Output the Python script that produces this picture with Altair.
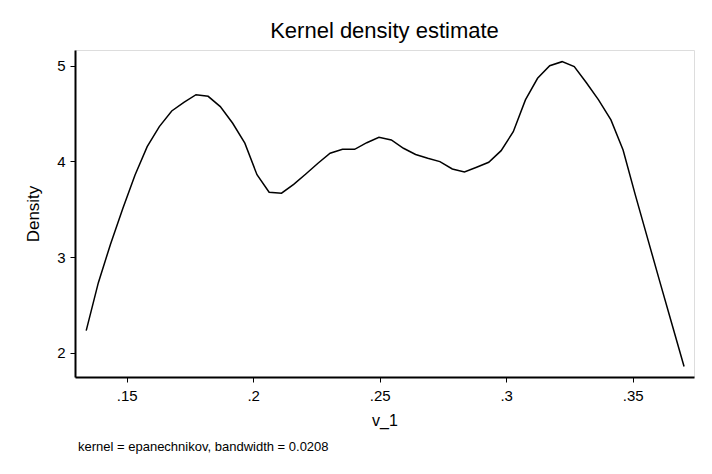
import altair as alt
import pandas as pd

# Evaluation points (v_1) and estimated density
v_1 = [0.1340, 0.1388, 0.1436, 0.1485, 0.1533, 0.1581, 0.1629, 0.1678, 0.1726, 0.1774,
       0.1822, 0.1870, 0.1919, 0.1967, 0.2015, 0.2063, 0.2112, 0.2160, 0.2208, 0.2256,
       0.2304, 0.2353, 0.2401, 0.2449, 0.2497, 0.2546, 0.2594, 0.2642, 0.2690, 0.2738,
       0.2787, 0.2835, 0.2883, 0.2931, 0.2980, 0.3028, 0.3076, 0.3124, 0.3172, 0.3221,
       0.3269, 0.3317, 0.3365, 0.3414, 0.3462, 0.3510, 0.3558, 0.3606, 0.3655, 0.3703]
density = [2.231, 2.732, 3.134, 3.510, 3.858, 4.154, 4.363, 4.527, 4.617, 4.697,
           4.680, 4.572, 4.398, 4.190, 3.860, 3.677, 3.667, 3.760, 3.868, 3.980,
           4.085, 4.126, 4.126, 4.195, 4.252, 4.224, 4.137, 4.072, 4.032, 3.997,
           3.920, 3.889, 3.938, 3.990, 4.112, 4.310, 4.642, 4.868, 5.000, 5.042,
           4.990, 4.822, 4.642, 4.433, 4.119, 3.652, 3.203, 2.753, 2.300, 1.855]

x_ticks = [0.15, 0.2, 0.25, 0.3, 0.35]
y_ticks = [2, 3, 4, 5]
title_text = "Kernel density estimate"
x_title = "v_1"
y_title = "Density"
note_text = "kernel = epanechnikov, bandwidth = 0.0208"

df = pd.DataFrame({"v_1": v_1, "density": density})
FONT = "Liberation Sans"

line = alt.Chart(df).mark_line(color="black", strokeWidth=1.5).encode(
    x=alt.X("v_1:Q",
            scale=alt.Scale(domain=[0.12957, 0.37423], nice=False, zero=False),
            axis=alt.Axis(values=x_ticks, title=x_title,
                          labelExpr="substring(format(datum.value, '.2~f'), 1)",
                          grid=False, tickSize=5, labelPadding=6, titlePadding=9,
                          labelFontSize=15, titleFontSize=16, titleFontWeight="normal",
                          domainColor="black", domainWidth=2, tickColor="black",
                          tickWidth=1, labelColor="black", titleColor="black",
                          labelFont=FONT, titleFont=FONT)),
    y=alt.Y("density:Q",
            scale=alt.Scale(domain=[1.746, 5.164], nice=False, zero=False),
            axis=alt.Axis(values=y_ticks, title=y_title, format="d",
                          grid=False, tickSize=5, labelPadding=5, titlePadding=14,
                          labelFontSize=15, titleFontSize=17, titleFontWeight="normal",
                          domainColor="black", domainWidth=2, tickColor="black",
                          tickWidth=1, labelColor="black", titleColor="black",
                          labelFont=FONT, titleFont=FONT)),
)

note = alt.Chart(pd.DataFrame({"note": [note_text]})).mark_text(
    align="left", baseline="middle", fontSize=13, font=FONT, color="black"
).encode(
    text="note:N",
    x=alt.value(3),
    y=alt.value(397),
)

chart = alt.layer(line, note).properties(
    width=619,
    height=327,
    title=alt.TitleParams(title_text, fontSize=22, font=FONT, fontWeight="normal",
                          color="black", anchor="middle", frame="group",
                          baseline="alphabetic", offset=10, dy=20),
    autosize=alt.AutoSizeParams(type="none"),
    padding={"left": 75, "top": 50, "right": 18, "bottom": 97},
).configure_view(
    stroke="#808080", strokeWidth=2
).configure(background="white")

chart.save("out.html", embed_options={"renderer": "svg", "actions": False})
